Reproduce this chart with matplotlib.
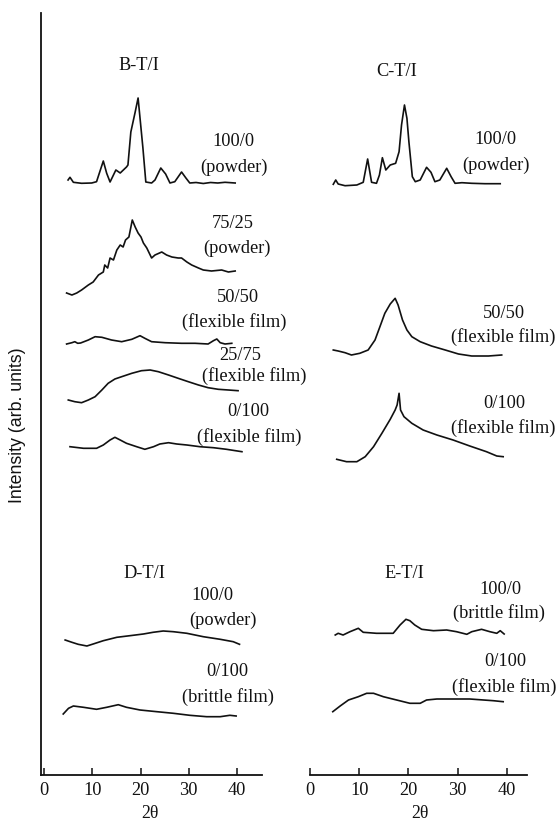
import matplotlib
matplotlib.use("Agg")
import matplotlib.pyplot as plt

# ---------------- data (2theta in degrees, intensity in arb. units) ----------------
b100_tt = [5.0, 5.4, 6.1, 7.8, 9.9, 10.9, 12.3, 13.0, 13.7, 14.9, 15.8, 17.1, 17.4, 18.0, 18.9, 19.5,
           20.1, 20.5, 21.1, 22.3, 23.0, 24.2, 25.2, 26.1, 27.1, 28.5, 29.4, 30.2, 31.5, 33.0, 34.5,
           36.0, 37.5, 39.6]
b100_i = [3, 5.7, 0.7, -0.3, 0, 1.3, 22, 9.7, 1, 13, 10, 16, 18, 51, 71, 85,
          55, 35, 1, 0, 3, 15, 9, 0, 1.3, 11, 5, 0, 0.5, -0.5, 0.5, 0, 0.7, 0]

b75_tt = [4.7, 5.8, 6.8, 7.8, 9.2, 10.2, 11.3, 12.3, 12.6, 13.2, 13.7, 14.4, 15.1, 15.8, 16.4, 16.9,
          17.6, 18.3, 18.9, 19.5, 20.1, 20.6, 21.3, 22.3, 23.0, 24.4, 25.4, 26.5, 27.8, 28.5, 29.6,
          30.6, 32.0, 33.0, 34.7, 36.8, 38.2, 39.6]
b75_i = [0, -2, 0, 3, 8, 11, 18, 21, 28, 25, 35, 33, 43, 48, 46, 53,
         56, 73, 66, 60, 56, 50, 45, 35, 38, 41, 38, 36, 35, 35, 31,
         28, 25, 23, 22, 23, 21, 22]

b50_tt = [4.7, 5.8, 6.4, 7.0, 7.6, 9.2, 10.6, 12.0, 14.0, 16.1, 18.2, 19.9, 20.9, 22.3, 25.1,
          28.5, 31.3, 34.0, 35.1, 35.8, 36.5, 37.5, 38.9]
b50_i = [0, 1.3, 2.3, 0.7, 1, 4, 7.3, 6.7, 4, 2.3, 4.7, 8.3, 5.7, 2.3, 1.3,
         0.7, 0.7, 0, 3.3, 5, 1.3, 0, 0.7]

b25_tt = [5.05, 6.4, 7.8, 9.2, 10.6, 12.0, 13.3, 14.7, 16.1, 18.2, 20.2, 22.0, 23.7, 25.8, 27.8,
          29.9, 32.0, 34.0, 36.1, 38.2, 40.2]
b25_i = [2.7, 1, 0, 2.7, 6, 12.7, 19.4, 23.7, 26, 29.4, 32, 32.7, 31, 27.7, 24.4,
         21, 17.7, 15, 13.4, 12.7, 12]

b0_tt = [5.4, 8.2, 10.9, 12.3, 13.7, 14.7, 15.8, 17.1, 19.2, 20.9, 22.7, 24.0, 25.8, 27.5, 29.6,
         32.3, 35.1, 37.8, 41.0]
b0_i = [5, 3.4, 3.4, 6.7, 11.7, 14.4, 11.7, 8.4, 5, 2.4, 5, 7.7, 9, 7.7, 6.7, 5, 4, 2.4, 0]

c100_tt = [4.7, 5.2, 5.7, 7.1, 9.5, 10.8, 11.7, 12.5, 13.5, 14.1, 14.7, 15.4, 16.3, 17.4, 18.1, 18.6,
           19.2, 19.7, 20.1, 20.8, 21.4, 22.4, 23.7, 24.6, 25.4, 26.4, 27.8, 28.7, 29.5, 30.9, 32.9,
           35.6, 38.7]
c100_i = [1.4, 5.7, 1.7, 0, 0.7, 3.4, 26.7, 3.4, 2.4, 10.7, 28, 15.7, 20.7, 22.4, 34, 60.7,
          80.7, 67.4, 44, 9, 4, 5.7, 18.4, 13.4, 4, 5.7, 17.4, 9, 2.4, 3, 2.4, 2, 2]

c50_tt = [4.7, 5.7, 7.1, 8.4, 10.1, 11.8, 13.2, 14.2, 15.2, 16.3, 17.3, 17.9, 18.8, 19.7, 20.7,
          22.4, 24.7, 27.5, 30.2, 32.9, 36.3, 39.0]
c50_i = [6, 5, 3.3, 1, 2.7, 6, 16, 29.3, 42.7, 52, 57.7, 51, 36, 26, 19.3,
         14.3, 10, 6, 2, 0, 0, 1]

c0_tt = [5.4, 7.4, 9.5, 11.2, 12.9, 14.6, 16.3, 17.3, 17.7, 18.1, 18.4, 19.1, 20.7, 23.0, 25.8,
         29.1, 32.5, 35.9, 38.0, 39.3]
c0_i = [2.7, 0.3, 0.3, 5.3, 15.3, 28.7, 42.7, 52, 57, 68.7, 52, 45.3, 38.7, 32, 27,
        22, 16, 10.3, 6, 5.3]

d100_tt = [4.4, 5.8, 7.1, 8.9, 10.2, 12.3, 15.1, 17.8, 20.6, 22.6, 24.7, 26.8, 29.6, 33.0, 36.5,
           39.2, 40.5]
d100_i = [6, 3.7, 1.7, 0, 2, 5.3, 8.7, 10.3, 12, 13.7, 15, 14.3, 12.7, 9.3, 6.7, 4.3, 1.7]

d0_tt = [4.0, 5.1, 6.1, 8.2, 10.9, 13.0, 15.4, 17.1, 19.9, 23.4, 26.8, 30.2, 33.7, 36.5, 38.5, 39.8]
d0_i = [2.7, 8.4, 10.7, 9.4, 7.4, 9.4, 12, 9.4, 6.7, 5, 3.4, 1.4, 0, 0, 1.4, 0.7]

e100_tt = [5.1, 5.7, 6.7, 8.1, 9.8, 10.8, 13.5, 16.9, 18.3, 19.5, 20.3, 21.3, 22.7, 25.1, 27.8,
           29.8, 31.9, 32.9, 34.9, 36.6, 38.0, 38.7, 39.5]
e100_i = [0, 1.7, 0, 3.3, 6.7, 2.7, 1.7, 1.7, 10, 15.7, 14.3, 10, 5.7, 4.3, 5,
          3.3, 0.7, 3.3, 5.7, 3.3, 1.7, 4.3, 1]

e0_tt = [4.6, 6.1, 7.8, 9.8, 11.5, 12.9, 14.9, 17.6, 20.3, 22.4, 23.7, 25.8, 29.1, 32.5, 35.3,
         37.3, 39.3]
e0_i = [0, 5.7, 11.7, 15, 18.4, 18.4, 15, 11.7, 8.4, 8.4, 11.7, 12.7, 12.7, 12.7, 11.7, 11, 10]

xticks = [0, 10, 20, 30, 40]
x_label = "2θ"
y_label = "Intensity (arb. units)"

# ---------------- layout ----------------
W, H = 560, 824
fig = plt.figure(figsize=(W / 100, H / 100), dpi=100)
SERIF = ["Liberation Serif", "DejaVu Serif"]
SANS = ["Liberation Sans", "DejaVu Sans"]
FS = 13.2
INK = "#111111"

def frac(x, y):
    return x / W, 1 - y / H

# axes in pixel boxes: left, right, top, bottom
Y_TOP, Y_BOT = 13, 775
def make_ax(px_left, px_right, zero_px, px_per_deg):
    l, _ = frac(px_left, 0)
    r, _ = frac(px_right, 0)
    b = 1 - Y_BOT / H
    t = 1 - Y_TOP / H
    ax = fig.add_axes([l, b, r - l, t - b])
    ax.set_xlim((px_left - zero_px) / px_per_deg, (px_right - zero_px) / px_per_deg)
    ax.set_ylim(0, Y_BOT - Y_TOP)
    ax.patch.set_visible(False)
    return ax

axL = make_ax(40.5, 262, 43.9, 4.83)
axR = make_ax(310, 527, 310.2, 4.91)

for ax, show_left in ((axL, True), (axR, False)):
    for s in ("top", "right"):
        ax.spines[s].set_visible(False)
    ax.spines["left"].set_visible(show_left)
    for s in ("left", "bottom"):
        ax.spines[s].set_linewidth(1.3)
        ax.spines[s].set_color(INK)
    ax.set_yticks([])
    ax.set_xticks(xticks)
    ax.set_xticklabels([str(t) for t in xticks], family=SERIF, fontsize=FS, color=INK)
    ax.tick_params(axis="x", direction="in", length=5, width=1.1, pad=5, colors=INK)

# baseline pixel rows of each trace (converted to axes data units)
def off(px):
    return Y_BOT - px

traces_L = [
    (b100_tt, b100_i, off(183)),
    (b75_tt, b75_i, off(293)),
    (b50_tt, b50_i, off(344)),
    (b25_tt, b25_i, off(402.7)),
    (b0_tt, b0_i, off(451.7)),
    (d100_tt, d100_i, off(646)),
    (d0_tt, d0_i, off(716.7)),
]
traces_R = [
    (c100_tt, c100_i, off(185.7)),
    (c50_tt, c50_i, off(356)),
    (c0_tt, c0_i, off(462)),
    (e100_tt, e100_i, off(635)),
    (e0_tt, e0_i, off(711.7)),
]
for ax, traces in ((axL, traces_L), (axR, traces_R)):
    for tt, ii, o in traces:
        ax.plot(tt, [o + v for v in ii], color=INK, lw=1.2, solid_joinstyle="round")

# ---------------- text ----------------
labels = [
    ("B-T/I", 139, 65), ("C-T/I", 397, 72), ("D-T/I", 144, 573), ("E-T/I", 404, 573),
    ("100/0", 233, 142), ("(powder)", 234, 167),
    ("75/25", 233, 223), ("(powder)", 237, 248),
    ("50/50", 238, 298), ("(flexible film)", 234, 322),
    ("25/75", 240, 355), ("(flexible film)", 254, 376),
    ("0/100", 248, 412), ("(flexible film)", 249, 437),
    ("100/0", 495, 140), ("(powder)", 496, 165),
    ("50/50", 504, 313), ("(flexible film)", 503, 337),
    ("0/100", 504, 403), ("(flexible film)", 503, 428),
    ("100/0", 212, 596), ("(powder)", 223, 620),
    ("0/100", 227, 672), ("(brittle film)", 228, 697),
    ("100/0", 500, 589), ("(brittle film)", 499, 613),
    ("0/100", 505, 662), ("(flexible film)", 504, 687),
]
for s, x, y in labels:
    fx, fy = frac(x, y)
    fig.text(fx, fy, s, ha="center", va="center", family=SERIF, fontsize=FS, color=INK)

for x in (150, 420):
    fx, fy = frac(x, 813)
    fig.text(fx, fy, x_label, ha="center", va="center", family=SERIF, fontsize=FS - 0.5, color=INK)

fx, fy = frac(18, 425)
fig.text(fx, fy, y_label, ha="center", va="center", rotation=90, family=SANS,
         fontsize=12.8, color=INK)

fig.savefig("out.png", dpi=100, facecolor="white")
